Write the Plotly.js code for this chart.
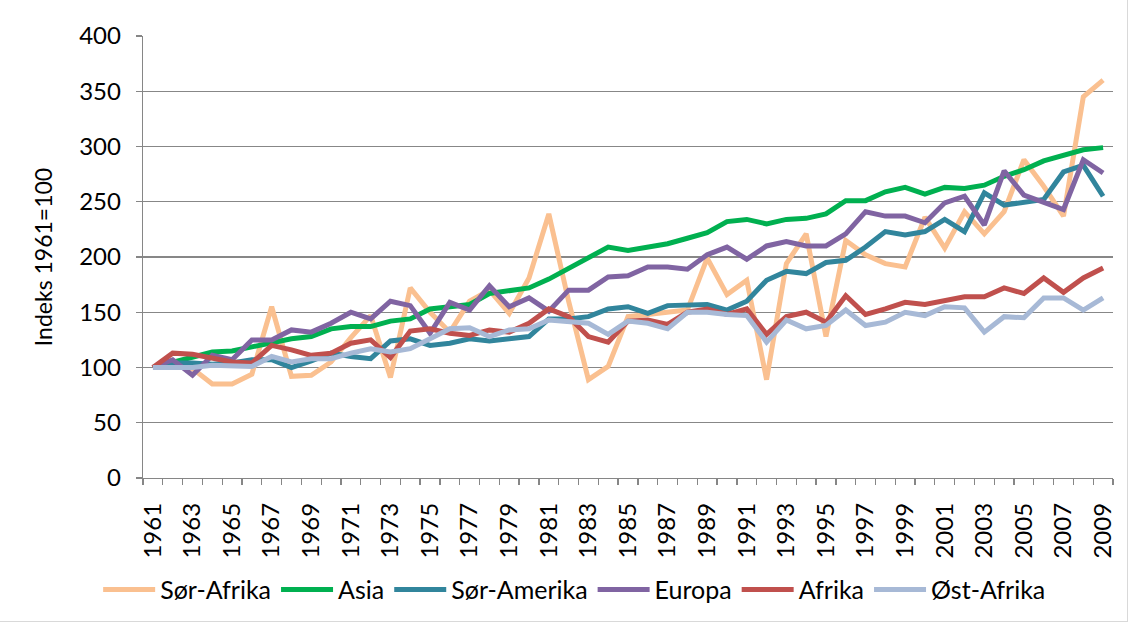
<!DOCTYPE html>
<html>
<head>
<meta charset="utf-8">
<script src="https://cdn.plot.ly/plotly-3.0.1.min.js"></script>
<style>
html,body{margin:0;padding:0;background:#fff;}
#chart{width:1127px;height:621px;border-right:1px solid #d9d9d9;border-bottom:1px solid #d9d9d9;}
</style>
</head>
<body>
<div id="chart"></div>
<script>
const years = [];
for (let y = 1961; y <= 2009; y++) years.push(y);

const seriesNames = ["Sør-Afrika", "Asia", "Sør-Amerika", "Europa", "Afrika", "Øst-Afrika"];
const seriesColors = ["#FAC090", "#00B050", "#31859C", "#8064A2", "#C0504D", "#A7B9D6"];

const sorAfrika = [100,101,99,85,85,94,155,92,93,105,127,147,91,172,150,132,160,170,149,181,239,160,89,101,146,148,150,152,199,166,179,89,194,221,128,215,202,194,191,236,208,241,221,241,288,264,237,345,360];
const asia = [100,105,110,114,115,119,123,126,128,135,137,137,142,144,153,155,157,167,170,172,180,190,200,209,206,209,212,217,222,232,234,230,234,235,239,251,251,259,263,257,263,262,265,273,279,287,292,297,299];
const sorAmerika = [100,104,104,103,104,107,107,100,106,113,110,108,124,126,120,122,126,124,126,128,144,144,146,153,155,149,156,157,157,152,160,179,187,185,195,197,209,223,220,223,234,223,258,247,249,252,277,283,255];
const europa = [100,107,93,111,107,125,125,134,132,140,150,144,160,156,131,159,152,174,155,163,151,170,170,182,183,191,191,189,202,209,198,210,214,210,210,221,241,237,237,231,249,255,229,278,256,249,243,288,276];
const afrika = [100,113,112,108,105,104,120,116,111,113,122,125,109,133,135,131,129,134,132,140,153,146,128,123,142,143,139,150,153,148,153,130,146,150,141,165,148,153,159,157,161,164,164,172,167,181,168,181,190];
const ostAfrika = [100,100,100,102,101,101,110,105,108,108,113,117,114,117,126,135,136,128,134,135,143,142,140,130,142,140,135,150,150,148,147,123,143,135,138,152,138,141,150,147,155,154,132,146,145,163,163,152,163];

const seriesValues = [sorAfrika, asia, sorAmerika, europa, afrika, ostAfrika];

const labelYears = years.filter(y => (y - 1961) % 2 === 0);
const boundaries = years.map(y => y - 0.5).concat([years[years.length - 1] + 0.5]);

const traces = seriesNames.map((name, i) => ({
  type: "scatter",
  mode: "lines",
  name: name,
  x: years,
  y: seriesValues[i],
  line: {color: seriesColors[i], width: 5, shape: "linear"},
  hoverinfo: "x+y+name"
}));

const layout = {
  width: 1127,
  height: 621,
  margin: {l: 143, r: 14, t: 36, b: 143, autoexpand: false},
  paper_bgcolor: "#ffffff",
  plot_bgcolor: "#ffffff",
  font: {family: "Lato, 'Open Sans', sans-serif", color: "#000000", size: 24},
  showlegend: true,
  legend: {
    orientation: "h",
    x: 0.445, xanchor: "center",
    y: -0.253, yanchor: "middle",
    font: {size: 25, color: "#000000"},
    itemwidth: 52,
    tracegroupgap: 0,
    bgcolor: "rgba(0,0,0,0)"
  },
  xaxis: {
    type: "linear",
    automargin: false,
    range: [years[0] - 0.5, years[years.length - 1] + 0.5],
    tickmode: "array",
    tickvals: labelYears,
    ticktext: labelYears.map(String),
    tickangle: -90,
    ticks: "",
    ticklabelstandoff: 14,
    tickfont: {size: 24, color: "#000000"},
    showgrid: false,
    zeroline: false,
    showline: true,
    linecolor: "#868686",
    linewidth: 1.3,
    minor: {
      tickmode: "array",
      tickvals: boundaries,
      ticks: "outside",
      ticklen: 6,
      tickcolor: "#868686",
      tickwidth: 1.3,
      showgrid: false
    }
  },
  yaxis: {
    automargin: false,
    range: [0, 400],
    dtick: 50,
    tick0: 0,
    ticks: "outside",
    ticklen: 6,
    tickcolor: "#868686",
    tickwidth: 1.3,
    ticklabelstandoff: 10,
    tickfont: {size: 24, color: "#000000"},
    showgrid: true,
    gridcolor: "#878787",
    gridwidth: 1.4,
    zeroline: false,
    showline: true,
    linecolor: "#868686",
    linewidth: 1.3,
    title: {text: "Indeks 1961=100", font: {size: 23, color: "#000000"}, standoff: 20}
  }
};

Plotly.newPlot("chart", traces, layout, {displayModeBar: false, staticPlot: true});
</script>
</body>
</html>
